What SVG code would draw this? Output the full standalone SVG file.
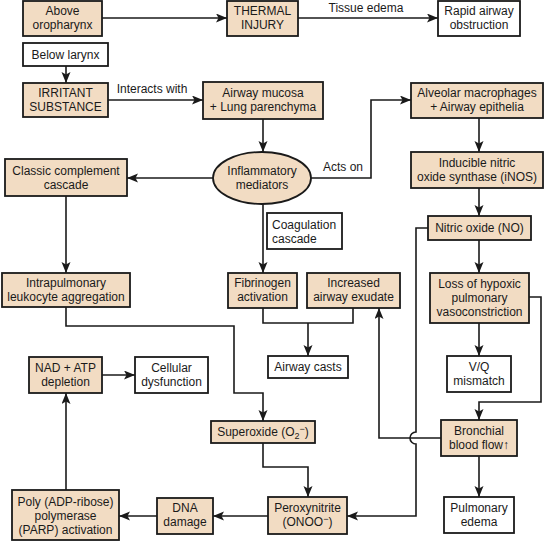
<svg xmlns="http://www.w3.org/2000/svg" width="546" height="541" viewBox="0 0 546 541">
<style>
.t{fill:#f2dcc3;stroke:#1a1a1a;stroke-width:1.8}
.w{fill:#fff;stroke:#1a1a1a;stroke-width:1.8}
text{font-family:"Liberation Sans",Arial,sans-serif;font-size:12px;fill:#1a1a1a;text-anchor:middle}
.l{text-anchor:start}
.c{fill:none;stroke:#1a1a1a;stroke-width:1.6}
.a{marker-end:url(#ah)}
</style>
<defs>
<marker id="ah" markerUnits="userSpaceOnUse" markerWidth="12" markerHeight="10" refX="11" refY="4.5" orient="auto">
<path d="M0,0 L11,4.5 L0,9 L2.5,4.5 z" fill="#1a1a1a"/>
</marker>
</defs>
<rect width="546" height="541" fill="#fff"/>
<g id="connectors">
<path class="c a" d="M102,18 H227"/>
<path class="c a" d="M298,18 H438"/>
<text x="366" y="12">Tissue edema</text>
<path class="c a" d="M66,66 V83"/>
<path class="c a" d="M108,100 H203"/>
<text x="152" y="93">Interacts with</text>
<path class="c a" d="M263,119 V152"/>
<path class="c a" d="M311,178 H371 V100 H411"/>
<text x="343" y="171">Acts on</text>
<path class="c a" d="M479,118 V152"/>
<path class="c a" d="M479,188 V216"/>
<path class="c a" d="M479,240 V273"/>
<path class="c a" d="M479,323 V356"/>
<path class="c a" d="M529,297 H541 V402 H479 V420"/>
<path class="c a" d="M479,456 V497"/>
<path class="c a" d="M441,438 H379 V308"/>
<path class="c a" d="M428,228 H416 V432 A6,6 0 0 0 416,444 V516 H347"/>
<path class="c a" d="M213,178 H127"/>
<path class="c a" d="M66,196 V273"/>
<path class="c a" d="M263,204 V273"/>
<path class="c" d="M263,308 V323 H353 V308"/>
<path class="c a" d="M308,323 V356"/>
<path class="c a" d="M66,307 V326 H234 V393 H263 V421"/>
<path class="c a" d="M263,443 V467 H308 V497"/>
<path class="c a" d="M268,516 H213"/>
<path class="c a" d="M157,516 H119"/>
<path class="c a" d="M66,490 V393"/>
<path class="c a" d="M102,375 H135"/>
</g>
<g id="above"><rect class="t" x="23" y="1" width="79" height="35"/><text x="62.5" y="15">Above</text><text x="62.5" y="29">oropharynx</text></g>
<g id="thermal"><rect class="t" x="227" y="1" width="71" height="35"/><text x="262.5" y="15">THERMAL</text><text x="262.5" y="29">INJURY</text></g>
<g id="rapid"><rect class="w" x="438" y="1" width="82" height="35"/><text x="479" y="15">Rapid airway</text><text x="479" y="29">obstruction</text></g>
<g id="below"><rect class="w" x="23" y="43" width="85" height="23"/><text x="65.5" y="59">Below larynx</text></g>
<g id="irritant"><rect class="t" x="23" y="83" width="85" height="34"/><text x="65.5" y="97">IRRITANT</text><text x="65.5" y="111">SUBSTANCE</text></g>
<g id="mucosa"><rect class="t" x="203" y="82" width="120" height="37"/><text x="263" y="97">Airway mucosa</text><text x="263" y="111">+ Lung parenchyma</text></g>
<g id="mediators"><ellipse class="t" cx="262" cy="178" rx="49" ry="26"/><text x="262" y="175">Inflammatory</text><text x="262" y="189">mediators</text></g>
<g id="alveolar"><rect class="t" x="411" y="83" width="132" height="35"/><text x="477" y="97">Alveolar macrophages</text><text x="477" y="111">+ Airway epithelia</text></g>
<g id="complement"><rect class="t" x="5" y="159" width="122" height="37"/><text x="66" y="175">Classic complement</text><text x="66" y="189">cascade</text></g>
<g id="inos"><rect class="t" x="411" y="152" width="132" height="36"/><text x="477" y="167">Inducible nitric</text><text x="477" y="181">oxide synthase (iNOS)</text></g>
<g id="no"><rect class="t" x="428" y="216" width="103" height="24"/><text x="479.5" y="232">Nitric oxide (NO)</text></g>
<g id="coagulation"><rect class="w" x="267" y="213" width="75" height="36"/><text class="l" x="272" y="229">Coagulation</text><text class="l" x="272" y="243">cascade</text></g>
<g id="intrapulmonary"><rect class="t" x="2" y="273" width="128" height="34"/><text x="66" y="287">Intrapulmonary</text><text x="66" y="301">leukocyte aggregation</text></g>
<g id="fibrinogen"><rect class="t" x="228" y="273" width="69" height="35"/><text x="262.5" y="287">Fibrinogen</text><text x="262.5" y="301">activation</text></g>
<g id="exudate"><rect class="t" x="307" y="273" width="93" height="35"/><text x="353.5" y="287">Increased</text><text x="353.5" y="301">airway exudate</text></g>
<g id="loss"><rect class="t" x="430" y="273" width="99" height="50"/><text x="479.5" y="288">Loss of hypoxic</text><text x="479.5" y="302">pulmonary</text><text x="479.5" y="316">vasoconstriction</text></g>
<g id="casts"><rect class="w" x="268" y="356" width="80" height="22"/><text x="308" y="371">Airway casts</text></g>
<g id="vq"><rect class="w" x="447" y="356" width="64" height="36"/><text x="479" y="371">V/Q</text><text x="479" y="385">mismatch</text></g>
<g id="nad"><rect class="t" x="29" y="357" width="73" height="36"/><text x="65.5" y="372">NAD + ATP</text><text x="65.5" y="386">depletion</text></g>
<g id="cellular"><rect class="w" x="135" y="357" width="73" height="36"/><text x="171.5" y="372">Cellular</text><text x="171.5" y="386">dysfunction</text></g>
<g id="superoxide"><rect class="t" x="211" y="421" width="104" height="22"/><text x="263" y="436">Superoxide (O<tspan font-size="9" dy="3">2</tspan><tspan font-size="9" dy="-7">−</tspan><tspan dy="4">)</tspan></text></g>
<g id="bronchial"><rect class="t" x="441" y="420" width="76" height="36"/><text x="479" y="435">Bronchial</text><text x="479" y="449">blood flow↑</text></g>
<g id="peroxynitrite"><rect class="t" x="268" y="497" width="79" height="37"/><text x="307.5" y="512">Peroxynitrite</text><text x="307.5" y="526">(ONOO<tspan font-size="9" dy="-4">−</tspan><tspan dy="4">)</tspan></text></g>
<g id="dna"><rect class="t" x="157" y="498" width="56" height="36"/><text x="185" y="512">DNA</text><text x="185" y="526">damage</text></g>
<g id="parp"><rect class="t" x="12" y="490" width="107" height="50"/><text x="65.5" y="506">Poly (ADP-ribose)</text><text x="65.5" y="520">polymerase</text><text x="65.5" y="534">(PARP) activation</text></g>
<g id="edema"><rect class="w" x="444" y="497" width="70" height="36"/><text x="479" y="512">Pulmonary</text><text x="479" y="526">edema</text></g>
</svg>
